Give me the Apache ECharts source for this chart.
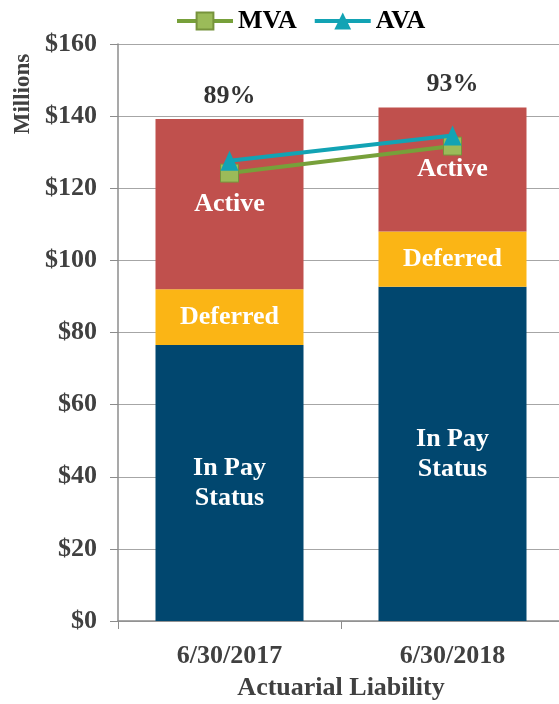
<!DOCTYPE html>
<html>
<head>
<meta charset="utf-8">
<script src="https://cdn.jsdelivr.net/npm/echarts@6/dist/echarts.min.js"></script>
<style>
  html, body { margin: 0; padding: 0; background: #fff; }
  #main { width: 559px; height: 704px; }
</style>
</head>
<body>
<div id="main"></div>
<script>
// values in $ millions
var categories = ['6/30/2017', '6/30/2018'];
var inPay = [76.5, 92.7];
var deferred = [15.5, 15.3];
var active = [47.2, 34.4];
var mva = [124.2, 131.7];
var ava = [127.6, 134.6];
var fundedPct = ['89%', '93%'];

var serif = '"Liberation Serif", "Times New Roman", serif';
var totals = inPay.map(function (v, i) { return v + deferred[i] + active[i]; });

function segLabel(text) {
    return {
        show: true,
        position: 'inside',
        formatter: text,
        color: '#fff',
        fontFamily: serif,
        fontWeight: 'bold',
        fontSize: 26,
        lineHeight: 30
    };
}

var chart = echarts.init(document.getElementById('main'));
chart.setOption({
    animation: false,
    legend: {
        data: ['MVA', 'AVA'],
        left: 170,
        top: 3,
        itemWidth: 56,
        itemHeight: 21,
        itemGap: 16,
        lineStyle: { width: 4 },
        textStyle: { fontFamily: serif, fontWeight: 'bold', fontSize: 26, color: '#000' }
    },
    graphic: [{
        type: 'text',
        x: 23,
        y: 94,
        rotation: Math.PI / 2,
        style: {
            text: 'Millions',
            fontFamily: serif,
            fontWeight: 'bold',
            fontSize: 23,
            fill: '#404040',
            textAlign: 'center',
            textVerticalAlign: 'middle'
        }
    }],
    grid: { left: 118, top: 44, width: 446, height: 577, outerBoundsMode: 'none' },
    xAxis: {
        type: 'category',
        data: categories,
        name: 'Actuarial Liability',
        nameLocation: 'middle',
        nameGap: 54,
        nameTextStyle: { fontFamily: serif, fontWeight: 'bold', fontSize: 26, color: '#404040' },
        axisLine: { lineStyle: { color: '#8c8c8c', width: 1.5 } },
        axisTick: { show: true, length: 8, alignWithLabel: false, lineStyle: { color: '#8c8c8c' } },
        axisLabel: { margin: 22, fontFamily: serif, fontWeight: 'bold', fontSize: 26, color: '#404040' }
    },
    yAxis: {
        type: 'value',
        min: 0,
        max: 160,
        interval: 20,
        axisLine: { show: true, lineStyle: { color: '#8c8c8c', width: 1.5 } },
        axisTick: { show: true, length: 8, lineStyle: { color: '#8c8c8c' } },
        splitLine: { lineStyle: { color: '#a6a6a6', width: 1 } },
        axisLabel: {
            margin: 21,
            fontFamily: serif,
            fontWeight: 'bold',
            fontSize: 26,
            color: '#404040',
            formatter: function (v) { return '$' + v; }
        }
    },
    series: [
        {
            name: 'In Pay Status', type: 'bar', stack: 'liab', barWidth: 148,
            data: inPay, itemStyle: { color: '#01476f' },
            label: segLabel('In Pay\nStatus')
        },
        {
            name: 'Deferred', type: 'bar', stack: 'liab',
            data: deferred, itemStyle: { color: '#fbb515' },
            label: segLabel('Deferred')
        },
        {
            name: 'Active', type: 'bar', stack: 'liab',
            data: active, itemStyle: { color: '#c0504d' },
            label: segLabel('Active')
        },
        {
            name: 'pct', type: 'scatter', symbolSize: 0,
            data: totals, silent: true,
            label: {
                show: true, position: 'top', distance: 10,
                formatter: function (p) { return fundedPct[p.dataIndex]; },
                fontFamily: serif, fontWeight: 'bold', fontSize: 26, color: '#000'
            }
        },
        {
            name: 'MVA', type: 'line', data: mva, z: 5,
            symbol: 'rect', symbolSize: 18,
            lineStyle: { color: '#77a03a', width: 4 },
            itemStyle: { color: '#9bbb59', borderColor: '#77933c', borderWidth: 1 }
        },
        {
            name: 'AVA', type: 'line', data: ava, z: 6,
            symbol: 'triangle', symbolSize: [18, 20],
            lineStyle: { color: '#12a3b4', width: 4 },
            itemStyle: { color: '#12a3b4' }
        }
    ]
});
</script>
</body>
</html>
